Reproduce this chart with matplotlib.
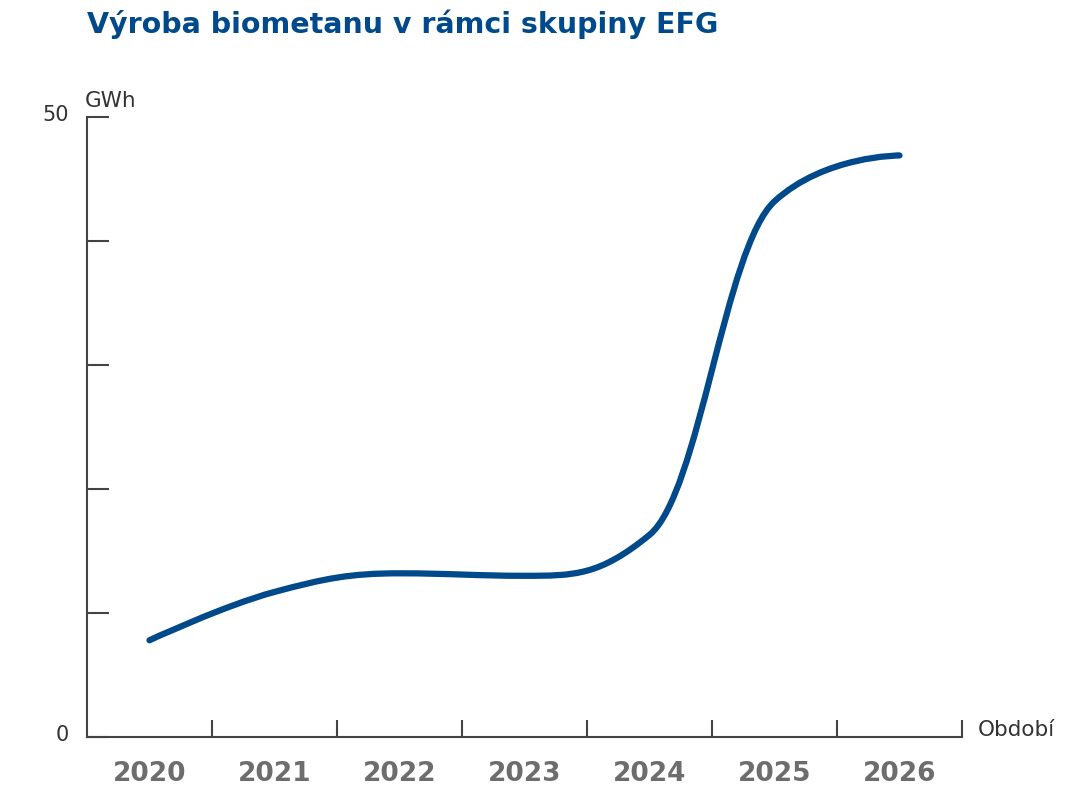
import numpy as np
import matplotlib
matplotlib.use("Agg")
import matplotlib.pyplot as plt
from matplotlib.path import Path
from matplotlib.patches import PathPatch
from matplotlib.transforms import ScaledTranslation

years = ["2020", "2021", "2022", "2023", "2024", "2025", "2026"]
production = [7.8, 11.7, 13.2, 13.0, 16.3, 43.2, 46.9]

TITLE = "Výroba biometanu v rámci skupiny EFG"
BLUE = "#00498a"
AXIS = "#444444"

plt.rcParams['font.family'] = ['DejaVu Sans']


def spline_path(xs, ys, smoothing=1.5):
    # bezier spline like the one highcharts draws (no overshoot)
    n = len(xs)
    denom = smoothing + 1
    left = [(xs[i], ys[i]) for i in range(n)]
    right = [(xs[i], ys[i]) for i in range(n)]
    for i in range(1, n - 1):
        px, py = xs[i], ys[i]
        lx, ly = xs[i - 1], ys[i - 1]
        nx, ny = xs[i + 1], ys[i + 1]
        lcx = (smoothing * px + lx) / denom
        lcy = (smoothing * py + ly) / denom
        rcx = (smoothing * px + nx) / denom
        rcy = (smoothing * py + ny) / denom
        corr = (rcy - lcy) * (rcx - px) / (rcx - lcx) + py - rcy
        lcy += corr
        rcy += corr
        if lcy > ly and lcy > py:
            lcy = max(ly, py)
            rcy = 2 * py - lcy
        elif lcy < ly and lcy < py:
            lcy = min(ly, py)
            rcy = 2 * py - lcy
        if rcy > ny and rcy > py:
            rcy = max(ny, py)
            lcy = 2 * py - rcy
        elif rcy < ny and rcy < py:
            rcy = min(ny, py)
            lcy = 2 * py - rcy
        left[i] = (lcx, lcy)
        right[i] = (rcx, rcy)
    verts = [(xs[0], ys[0])]
    codes = [Path.MOVETO]
    for i in range(1, n):
        verts += [right[i - 1], left[i], (xs[i], ys[i])]
        codes += [Path.CURVE4] * 3
    return Path(verts, codes)


fig = plt.figure(figsize=(10.87, 8.11), dpi=100)
ax = fig.add_axes([87 / 1087, 74 / 811, 875 / 1087, 620 / 811])

x = np.arange(len(years), dtype=float)
patch = PathPatch(spline_path(x, production), facecolor="none", edgecolor=BLUE,
                  lw=4.5, capstyle="round", joinstyle="round")
ax.add_patch(patch)

ax.set_xlim(-0.5, len(years) - 0.5)
ax.set_ylim(0, 50)

for s in ["top", "right"]:
    ax.spines[s].set_visible(False)
for s in ["left", "bottom"]:
    ax.spines[s].set_color(AXIS)
    ax.spines[s].set_linewidth(1.5)

ax.set_yticks(np.arange(0, 51, 10))
ax.set_yticklabels(["0", "", "", "", "", "50"])
ax.tick_params(axis="y", direction="in", length=15.5, width=1.5, color=AXIS,
               labelsize=15, labelcolor="#333333", pad=13)
# labels sit a bit above their ticks in the original
shift = ScaledTranslation(0, 0.04, fig.dpi_scale_trans)
for lab in ax.get_yticklabels():
    lab.set_transform(lab.get_transform() + shift)

ax.set_xticks(np.arange(0.5, len(years), 1.0))
ax.set_xticklabels([])
ax.tick_params(axis="x", direction="in", length=12.5, width=1.5, color=AXIS)
ax.set_xticks(x, minor=True)
ax.set_xticklabels(years, minor=True, fontsize=19, fontweight="bold", color="#6d6d6d")
ax.tick_params(axis="x", which="minor", length=0, pad=17)

ax.text(-0.002, 1.016, "GWh", transform=ax.transAxes, fontsize=15.5, color="#333333",
        ha="left", va="baseline")
ax.text(1.018, 0.002, "Období", transform=ax.transAxes, fontsize=15.5, color="#333333",
        ha="left", va="baseline")

fig.text(87 / 1087, 1 - 33 / 811, TITLE, fontsize=20.5, fontweight="bold", color=BLUE,
         ha="left", va="baseline")

fig.savefig("out.png", dpi=100)
